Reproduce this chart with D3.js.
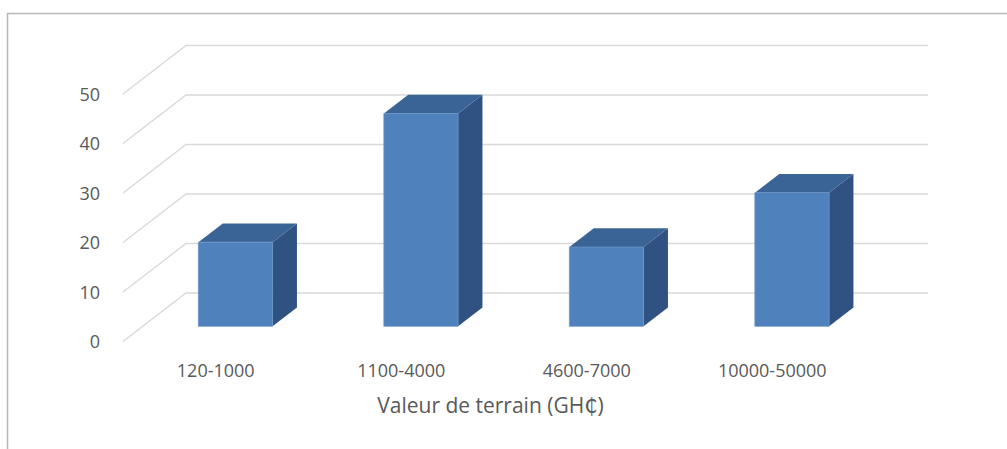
<!DOCTYPE html>
<html><head><meta charset="utf-8">
<script src="https://cdn.jsdelivr.net/npm/d3@7/dist/d3.min.js"></script>
<style>body{margin:0;background:#fff}svg{display:block}</style>
</head><body>
<svg id="c" width="1007" height="449"></svg>
<script>
const categories = ["120-1000", "1100-4000", "4600-7000", "10000-50000"];
const values = [17, 43, 16, 27];
const yTicks = [0, 10, 20, 30, 40, 50];
const axisTitle = "Valeur de terrain (GH\u20B5)";

const W = 1007, H = 449;
const svg = d3.select("#c");
const font = "'Open Sans', 'DejaVu Sans', sans-serif";
const textColor = "#595959";

// frame
svg.append("path").attr("d", `M7.5,${H} L7.5,13.5 L${W},13.5`)
  .attr("fill", "none").attr("stroke", "#b8b8b8").attr("stroke-width", 1.5);

// oblique 3D projection
const depthDX = 63, depthDY = -48.5;
const x = d3.scaleBand().domain(categories).range([123, 865]);
const y = d3.scaleLinear().domain([0, 50]).range([341.5, 94]);
const P = (px, v, f) => [px + f * depthDX, y(v) + f * depthDY];

const grid = svg.append("g").attr("stroke", "#d9d9d9").attr("stroke-width", 1.4).attr("fill", "none");
const x0 = x.range()[0], x1 = x.range()[1];
yTicks.forEach(t => {
  const a = P(x0, t, 0), b = P(x0, t, 1), c = P(x1, t, 1);
  grid.append("path").attr("d", `M${a[0]},${a[1]} L${b[0]},${b[1]} L${c[0]},${c[1]}`);
});

// y tick labels
svg.append("g").selectAll("text").data(yTicks).join("text")
  .attr("x", 100).attr("y", d => y(d) + 2)
  .attr("text-anchor", "end").attr("dominant-baseline", "middle")
  .attr("font-family", font).attr("font-size", 18).attr("fill", textColor)
  .text(d => d);

// bars
const f1 = 0.313, f2 = 0.70;
const barW = x.bandwidth() * 0.4;
const bars = svg.append("g");
categories.forEach((cat, i) => {
  const v = values[i];
  const l = x(cat) + (x.bandwidth() - barW) / 2, r = l + barW;
  const fbl = P(l, 0, f1), fbr = P(r, 0, f1), ftl = P(l, v, f1), ftr = P(r, v, f1);
  const btl = P(l, v, f2), btr = P(r, v, f2), bbr = P(r, 0, f2);
  const poly = pts => "M" + pts.map(p => p.join(",")).join("L") + "Z";
  bars.append("path").attr("d", poly([fbr, ftr, btr, bbr])).attr("fill", "#2f5282");
  bars.append("path").attr("d", poly([ftl, btl, btr, ftr])).attr("fill", "#3b6496");
  bars.append("path").attr("d", poly([fbl, ftl, ftr, fbr])).attr("fill", "#4f81bd")
    .attr("stroke", "#6a94c8").attr("stroke-width", 0.8);
});

// category labels
svg.append("g").selectAll("text").data(categories).join("text")
  .attr("x", d => x(d) + x.bandwidth() / 2).attr("y", 377)
  .attr("text-anchor", "middle")
  .attr("font-family", font).attr("font-size", 18).attr("fill", textColor)
  .text(d => d);

// axis title
svg.append("text").attr("x", 490.5).attr("y", 413).attr("text-anchor", "middle")
  .attr("font-family", font).attr("font-size", 21).attr("fill", textColor)
  .text(axisTitle);
</script>
</body></html>
